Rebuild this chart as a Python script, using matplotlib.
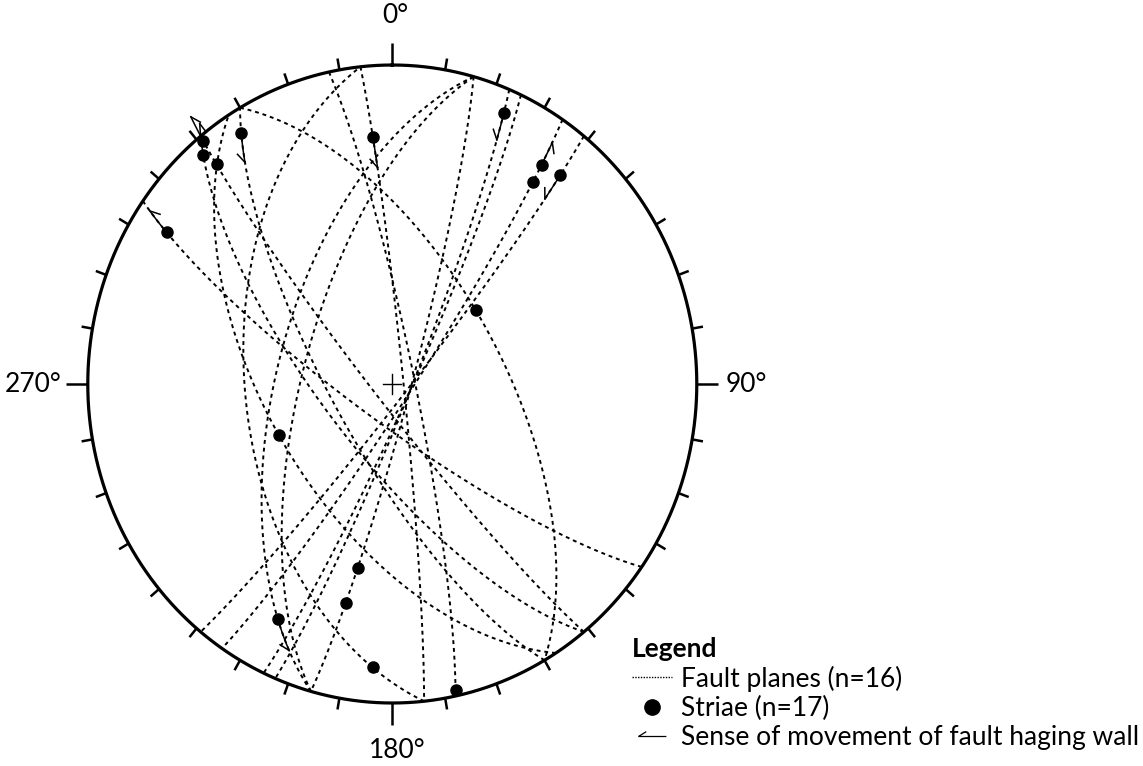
import numpy as np
import matplotlib
matplotlib.use("Agg")
import matplotlib.pyplot as plt
from matplotlib.lines import Line2D
from matplotlib.path import Path

plt.rcParams['font.family'] = ['Lato', 'DejaVu Sans']

# ---------------- data read from the stereonet ----------------
# fault planes: strike (right-hand rule, degrees) and dip (degrees)
strikes = [354, 174, 348, 125, 141, 141, 147.5, 330, 150, 15.5, 195.5, 195.5, 22.6, 25, 34, 39]
dips    = [87, 50, 84, 80, 85, 72, 57, 61, 74, 85, 59, 66, 85, 85, 85, 86]

# striae: index of the host plane and rake (degrees from strike direction)
striae_plane = [0, 2, 3, 6, 7, 8, 4, 5, 6, 12, 14, 14, 15, 10, 9, 9, 1]
striae_rake  = [23.5, 178, 166.8, 95, 85, 171.9, 178, 174, 166.8, 8.3, 16.7, 22.9, 15.4, 21.6, 139, 149.5, 15.6]

# sense of movement of hanging wall: striae index and rake increment along plane
arrow_striae = [0, 9, 10, 12, 6, 7, 5, 2, 13]
arrow_drake  = [9, 9, -8, 9, 10, 10, -9, 9, -9]

ring_labels = ['0°', '90°', '180°', '270°']
legend_title = 'Legend'
legend_labels = ['Fault planes (n=16)', 'Striae (n=17)', 'Sense of movement of fault haging wall']


def project(strike, dip, rake):
    """Lower-hemisphere equal-area projection of lines lying in a plane."""
    s = np.radians(strike)
    d = np.radians(dip)
    lam = np.radians(np.atleast_1d(np.asarray(rake, dtype=float)))
    sv = np.array([np.sin(s), np.cos(s), 0.0])
    dd = s + np.pi / 2
    dv = np.array([np.cos(d) * np.sin(dd), np.cos(d) * np.cos(dd), -np.sin(d)])
    v = np.cos(lam)[:, None] * sv + np.sin(lam)[:, None] * dv
    plunge = np.arcsin(np.clip(-v[:, 2], -1, 1))
    trend = np.arctan2(v[:, 0], v[:, 1])
    r = np.sqrt(2) * np.sin((np.pi / 2 - plunge) / 2)
    return r * np.sin(trend), r * np.cos(trend)


fig = plt.figure(figsize=(11.43, 7.66), dpi=100)
ax = fig.add_axes([0, 0, 1, 1])
ax.set_xlim(-1.2883, 2.4654)
ax.set_ylim(-1.1975, 1.2038)
ax.axis('off')

# primitive circle
t = np.linspace(0, 2 * np.pi, 721)
ax.plot(np.sin(t), np.cos(t), color='black', lw=2.3, zorder=3)

# ticks every 10 degrees
for az in range(0, 360, 10):
    a = np.radians(az)
    L = 0.07 if az % 90 == 0 else 0.036
    ax.plot([np.sin(a), np.sin(a) * (1 + L)], [np.cos(a), np.cos(a) * (1 + L)],
            color='black', lw=1.8, zorder=3, solid_capstyle='butt')

# centre cross
ax.plot([-0.03, 0.03], [0, 0], color='black', lw=1.0)
ax.plot([0, 0], [-0.03, 0.03], color='black', lw=1.0)

# ring labels
ax.text(0.01, 1.155, ring_labels[0], ha='center', va='center', fontsize=19)
ax.text(1.095, 0.0, ring_labels[1], ha='left', va='center', fontsize=19)
ax.text(0.015, -1.148, ring_labels[2], ha='center', va='center', fontsize=19)
ax.text(-1.085, 0.0, ring_labels[3], ha='right', va='center', fontsize=19)

# fault planes
rk = np.linspace(0, 180, 361)
for s, d in zip(strikes, dips):
    x, y = project(s, d, rk)
    ax.plot(x, y, color='black', lw=1.4, ls=(0, (2.0, 2.0)), zorder=2)

# striae
sx, sy = [], []
for p, r in zip(striae_plane, striae_rake):
    x, y = project(strikes[p], dips[p], r)
    sx.append(x[0]); sy.append(y[0])
ax.plot(sx, sy, 'o', color='black', ms=8, zorder=4)

# sense-of-movement half arrows
for i, dr in zip(arrow_striae, arrow_drake):
    p = striae_plane[i]
    r0 = striae_rake[i]
    seg = np.linspace(r0, r0 + dr, 20)
    x, y = project(strikes[p], dips[p], seg)
    ax.plot(x, y, color='black', lw=1.1, zorder=4)
    vx, vy = x[-4] - x[-1], y[-4] - y[-1]
    n = np.hypot(vx, vy)
    vx, vy = vx / n, vy / n
    ang = np.radians(35)
    bx = vx * np.cos(ang) - vy * np.sin(ang)
    by = vx * np.sin(ang) + vy * np.cos(ang)
    ax.plot([x[-1], x[-1] + 0.035 * bx], [y[-1], y[-1] + 0.035 * by],
            color='black', lw=1.1, zorder=4)

# legend
half_arrow = Path([(-1, 0), (1, 0), (-1, 0), (-0.45, 0.35)],
                  [Path.MOVETO, Path.LINETO, Path.MOVETO, Path.LINETO])
handles = [
    Line2D([], [], color='black', lw=1.0, ls=(0, (1, 1))),
    Line2D([], [], color='black', marker='o', ls='none', ms=11),
    Line2D([], [], color='black', marker=half_arrow, ls='none', ms=20, mew=0.9),
]
leg = ax.legend(handles, legend_labels, title=legend_title, loc='upper left',
                bbox_to_anchor=(0.553, 0.168), frameon=False, fontsize=19,
                title_fontproperties={'weight': 'bold', 'size': 19},
                alignment='left', handlelength=1.5, handletextpad=0.35,
                labelspacing=0.16, borderpad=0.0, borderaxespad=0.0)

fig.savefig('out.png', dpi=100)
